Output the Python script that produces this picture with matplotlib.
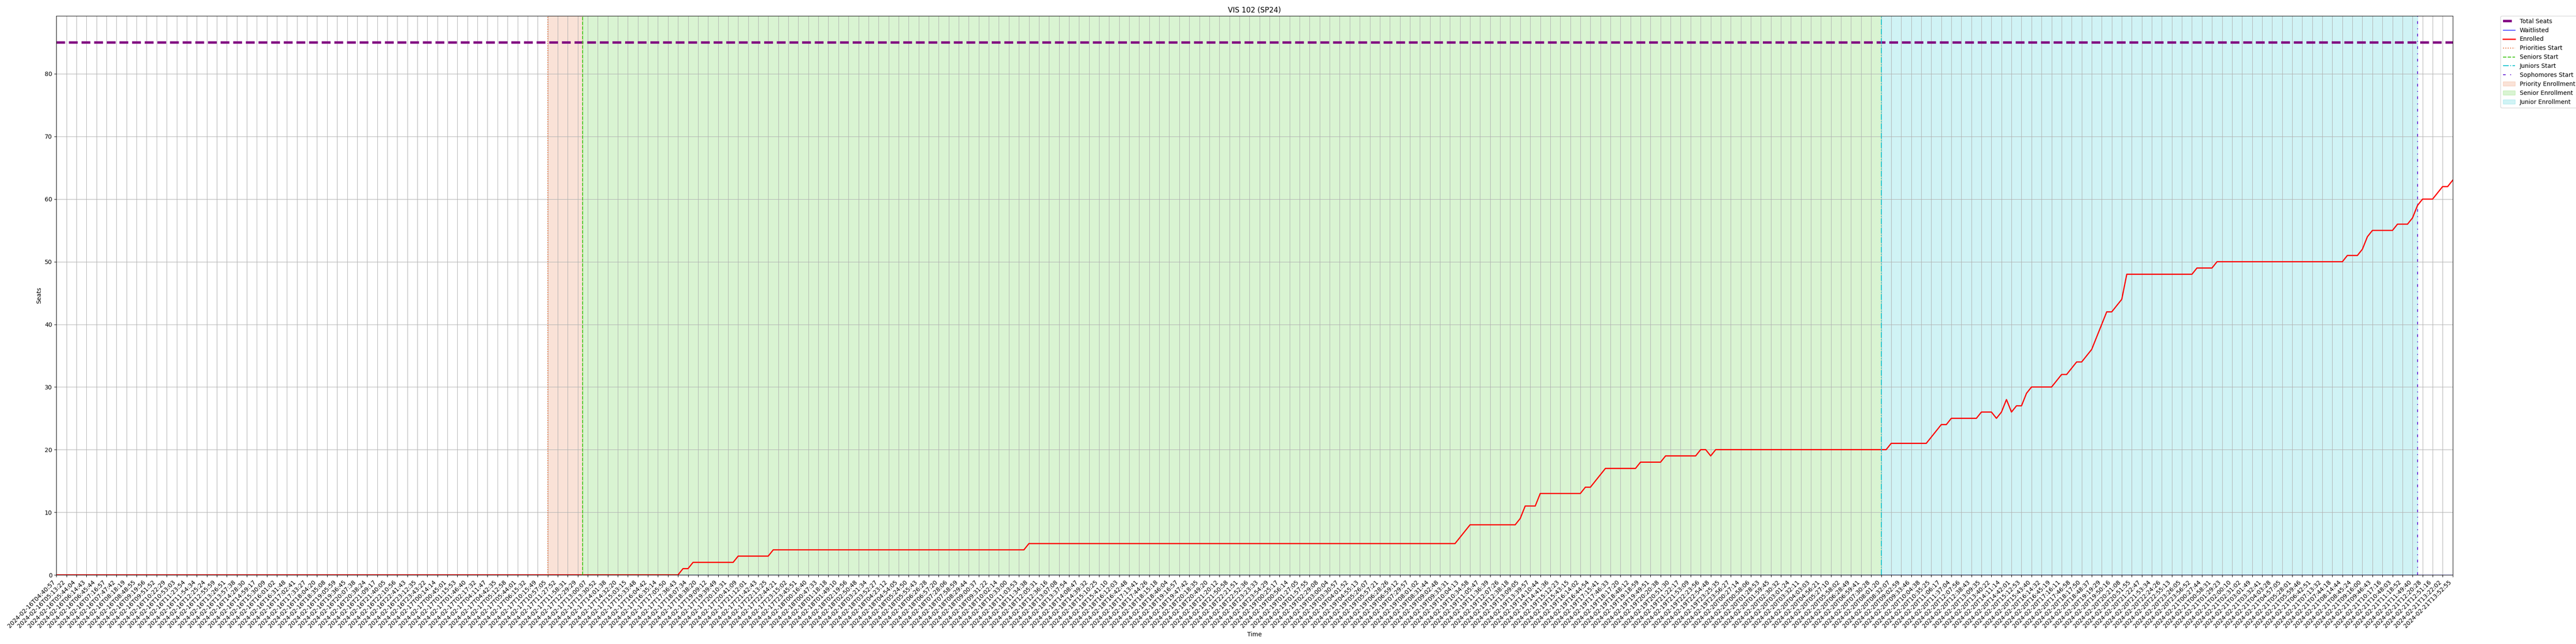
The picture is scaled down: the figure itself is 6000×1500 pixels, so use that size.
import numpy as np
import matplotlib
matplotlib.use("Agg")
import matplotlib.pyplot as plt

### DATA ###
course = "VIS 102 (SP24)"
total_seats = 85

# enrolled counts, stored as runs (value, number of samples)
enrolled_values = [0, 1, 2, 3, 4, 5, 6, 7, 8, 9, 11, 13, 14, 15, 16, 17, 18, 19, 20, 19, 20,
                   21, 22, 23, 24, 25, 26, 25, 26, 28, 26, 27, 29, 30, 31, 32, 33, 34, 35, 36,
                   38, 40, 42, 43, 44, 48, 49, 50, 51, 52, 54, 55, 56, 57, 59, 60, 61, 62, 63]
enrolled_counts = [125, 2, 9, 7, 51, 86, 1, 1, 10, 1, 3, 9, 2, 1, 1, 7, 5, 7, 2, 1, 35,
                   8, 1, 1, 2, 6, 3, 1, 1, 1, 1, 2, 1, 5, 1, 2, 1, 2, 1, 1,
                   1, 1, 2, 1, 1, 14, 4, 26, 3, 1, 1, 5, 3, 1, 1, 3, 1, 2, 1]
waitlisted_values = [0]
waitlisted_counts = [479]

# sample index where each phase starts
priorities_start = 98
seniors_start = 105
juniors_start = 364
sophomores_start = 471

# tick labels (every second sample)
tick_step = 2
day_16 = ["04:40:57", "05:13:22", "05:44:04", "06:14:43", "06:45:44", "07:16:57", "07:47:42",
          "08:18:19", "08:48:55", "09:19:56", "09:51:52", "10:22:29", "10:53:03", "11:23:54",
          "11:54:34", "12:25:24", "12:55:59", "13:26:51", "13:57:38", "14:28:30", "14:59:17",
          "15:30:09", "16:01:02", "16:31:48", "17:02:41", "17:33:27", "18:04:20", "18:35:08",
          "19:05:59", "19:36:45", "20:07:38", "20:38:24", "21:09:17", "21:40:05", "22:10:56",
          "22:41:43", "23:12:35", "23:43:22"]
day_17 = ["00:14:14", "00:45:01", "01:15:53", "01:46:40", "02:17:32", "04:11:47", "04:42:35",
          "05:12:58", "05:44:01", "06:15:32", "10:15:49", "10:57:05", "11:27:52", "11:58:31",
          "12:29:29", "13:00:07", "13:30:52", "14:01:38", "14:32:20", "15:03:15", "15:33:48",
          "16:04:42", "16:35:14", "17:05:50", "17:36:43", "18:07:34", "18:38:20", "19:09:12",
          "19:39:49", "20:10:31", "20:41:09", "21:12:01", "21:42:43", "22:13:25", "22:44:21",
          "23:15:02", "23:45:51"]
day_18 = ["00:16:40", "00:47:33", "01:18:18", "01:49:10", "02:19:56", "02:50:48", "03:21:34",
          "03:52:27", "04:23:12", "04:54:05", "05:24:50", "05:55:43", "06:26:28", "06:57:20",
          "07:28:06", "07:58:59", "08:29:44", "09:00:37", "09:31:22", "10:02:14", "10:33:00",
          "11:03:53", "11:34:38", "12:05:31", "12:36:16", "13:07:08", "13:37:54", "14:08:47",
          "14:39:32", "15:10:25", "15:41:10", "16:12:03", "16:42:48", "17:13:41", "17:44:26",
          "18:15:18", "18:46:04", "19:16:57", "19:47:42", "20:18:35", "20:49:20", "21:20:12",
          "21:50:58", "22:21:51", "22:52:36", "23:23:33", "23:54:29"]
day_19 = ["00:25:17", "00:56:14", "01:27:05", "01:57:55", "02:29:08", "03:00:04", "03:30:57",
          "04:01:52", "04:55:13", "05:26:07", "05:57:21", "06:28:26", "06:59:12", "07:29:57",
          "08:01:02", "08:31:44", "09:02:48", "09:33:31", "10:04:13", "10:34:58", "11:05:47",
          "11:36:39", "12:07:26", "12:38:18", "13:09:05", "13:39:57", "14:10:44", "14:41:36",
          "15:12:23", "15:43:15", "16:14:02", "16:44:54", "17:15:41", "17:46:33", "18:17:20",
          "18:48:12", "19:18:59", "19:49:51", "20:20:38", "20:51:30", "21:22:17", "21:53:09",
          "22:23:56", "22:54:48", "23:25:35", "23:56:27"]
day_20 = ["00:27:14", "00:58:06", "01:28:53", "01:59:45", "02:30:32", "03:01:24", "03:32:11",
          "04:03:03", "04:56:21", "05:27:10", "05:58:02", "06:28:49", "06:59:41", "07:30:28",
          "08:01:20", "08:32:07", "09:02:59", "09:33:46", "10:04:38", "10:35:25", "11:06:17",
          "11:37:04", "12:07:56", "12:38:43", "13:09:35", "13:40:22", "14:11:14", "14:42:01",
          "15:12:53", "15:43:40", "16:14:32", "16:45:19", "17:16:11", "17:46:58", "18:17:50",
          "18:48:37", "19:19:29", "19:50:16", "20:21:08", "20:51:55", "21:22:47", "21:53:34",
          "22:24:26", "22:55:13", "23:26:05", "23:56:52"]
day_21 = ["00:27:44", "00:58:31", "01:29:23", "02:00:10", "02:31:02", "03:01:49", "03:32:41",
          "04:03:28", "04:57:05", "05:28:01", "05:59:46", "06:42:51", "07:13:32", "07:44:18",
          "08:14:44", "08:45:24", "09:16:00", "09:46:43", "10:17:16", "10:48:03", "11:18:52",
          "11:49:40", "12:20:28", "12:51:16", "13:22:02", "13:52:55"]

tick_labels = []
for date, times in [("2024-02-16", day_16), ("2024-02-17", day_17), ("2024-02-18", day_18),
                    ("2024-02-19", day_19), ("2024-02-20", day_20), ("2024-02-21", day_21)]:
    tick_labels += [date + "T" + t for t in times]

enrolled = np.repeat(enrolled_values, enrolled_counts)
waitlisted = np.repeat(waitlisted_values, waitlisted_counts)
x = np.arange(len(enrolled))

### PLOT ###
fig = plt.figure(figsize=(60, 15), dpi=100)
ax = fig.add_axes([0.02188, 0.1073, 0.93023, 0.868])

ax.axhline(total_seats, color="purple", linestyle="--", linewidth=4, label="Total Seats")
ax.plot(x, waitlisted, color="blue", linewidth=1, label="Waitlisted")
ax.plot(x, enrolled, color="red", linewidth=2, label="Enrolled")

ax.axvline(priorities_start, color="#e8703a", linestyle=":", linewidth=1.5, label="Priorities Start")
ax.axvline(seniors_start, color="#44c81e", linestyle="--", linewidth=1.5, label="Seniors Start")
ax.axvline(juniors_start, color="#17c3cf", linestyle="-.", linewidth=1.5, label="Juniors Start")
ax.axvline(sophomores_start, color="#6a2bd4", linestyle=(0, (3, 5, 1, 5)), linewidth=1.5,
           label="Sophomores Start")

ax.axvspan(priorities_start, seniors_start, color="#e8703a", alpha=0.2, label="Priority Enrollment")
ax.axvspan(seniors_start, juniors_start, color="#44c81e", alpha=0.2, label="Senior Enrollment")
ax.axvspan(juniors_start, sophomores_start, color="#17c3cf", alpha=0.2, label="Junior Enrollment")

ax.set_xlim(x[0], x[-1])
ax.set_ylim(bottom=0)
ax.set_xticks(x[::tick_step], tick_labels, rotation=45, ha="right")
ax.set_title(course)
ax.set_xlabel("Time")
ax.set_ylabel("Seats")
ax.grid(True)
ax.legend(loc="upper left", bbox_to_anchor=(1.02, 1), borderaxespad=0)

fig.savefig("out.png", dpi=100)
